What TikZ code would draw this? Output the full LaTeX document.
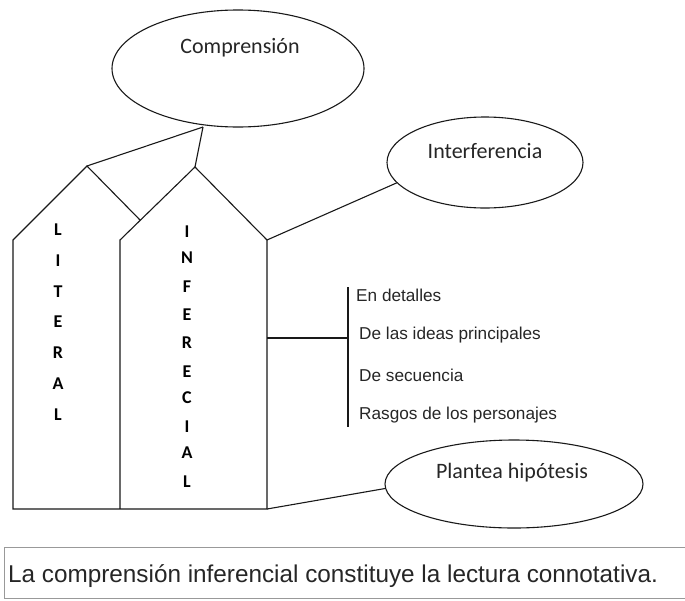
\documentclass[tikz,border=0pt]{standalone}
\usepackage{fontspec}
\setmainfont{Carlito}
\newfontfamily\arialf{Liberation Sans}
\usetikzlibrary{shapes.geometric}
\begin{document}
\begin{tikzpicture}[x=1pt,y=-1pt,
  ln/.style={line width=1.1pt,draw=black!90},
  oval/.style={ellipse,ln,inner sep=0pt},
  ovaltext/.style={font=\fontsize{22}{24}\selectfont,text=black!85,inner sep=0pt},
  letter/.style={font=\bfseries\fontsize{18}{19}\selectfont,text=black,inner sep=0pt},
  item/.style={font=\arialf\fontsize{17.2}{18}\selectfont,text=black!85,anchor=west,inner sep=0pt}]
\useasboundingbox (0,0) rectangle (685,600);
% ellipses
\node[oval,minimum width=252pt,minimum height=117pt] (comp) at (238,68.5) {};
\node[ovaltext] (compt) at (240,48) {Comprensión};
\node[oval,minimum width=196pt,minimum height=91pt] (inter) at (485,162.5) {};
\node[ovaltext] (intert) at (485,151) {Interferencia};
\node[oval,minimum width=258pt,minimum height=88pt] (plan) at (514,484) {};
\node[ovaltext] (plant) at (512,473) {Plantea hipótesis};
% house coordinates
\coordinate (lapex) at (87,166);
\coordinate (lwall) at (13,240);
\coordinate (lbot) at (13,509);
\coordinate (meet) at (140,220);
\coordinate (iapex) at (195,167);
\coordinate (ileft) at (120,240);
\coordinate (ileftbot) at (120,509);
\coordinate (iright) at (267,240);
\coordinate (irightbot) at (267,509);
\coordinate (junc) at (203,127);
\coordinate (imid) at (267,338);
\coordinate (bartop) at (348,287);
\coordinate (barmid) at (348,338);
\coordinate (barbot) at (348,427);
% houses
\draw[ln] (meet) -- (lapex) -- (lwall) -- (lbot) -- (irightbot) -- (iright) -- (iapex) -- (ileft) -- (ileftbot);
% connectors
\draw[ln] (junc) -- (lapex);
\draw[ln] (junc) -- (iapex);
\draw[ln] (iright) -- (inter.193);
\draw[ln] (irightbot) -- (plan.182);
\draw[ln] (imid) -- (barmid);
\draw[ln] (bartop) -- (barbot);
% letters
\foreach \t/\y [count=\k] in {L/230,I/261,T/292,E/322,R/353,A/384,L/415}
  \node[letter] (lit\k) at (58,\y) {\t};
\foreach \t/\y [count=\k] in {I/232,N/258,F/287,E/315,R/343,E/372,C/398,I/427,A/453,L/482}
  \node[letter] (inf\k) at (187,\y) {\t};
% list
\node[item] (it1) at (356,295) {En detalles};
\node[item] (it2) at (359,335) {De las ideas principales};
\node[item] (it3) at (359,375) {De secuencia};
\node[item] (it4) at (359,415) {Rasgos de los personajes};
% bottom box
\draw[draw=black!40,line width=1pt] (690,547) -- (4,547) -- (4,598) -- (690,598);
\node[font=\arialf\fontsize{24.3}{26}\selectfont,text=black!85,anchor=base west,inner sep=0pt] (cap) at (8,582) {La comprensión inferencial constituye la lectura connotativa.};
\end{tikzpicture}
\end{document}
